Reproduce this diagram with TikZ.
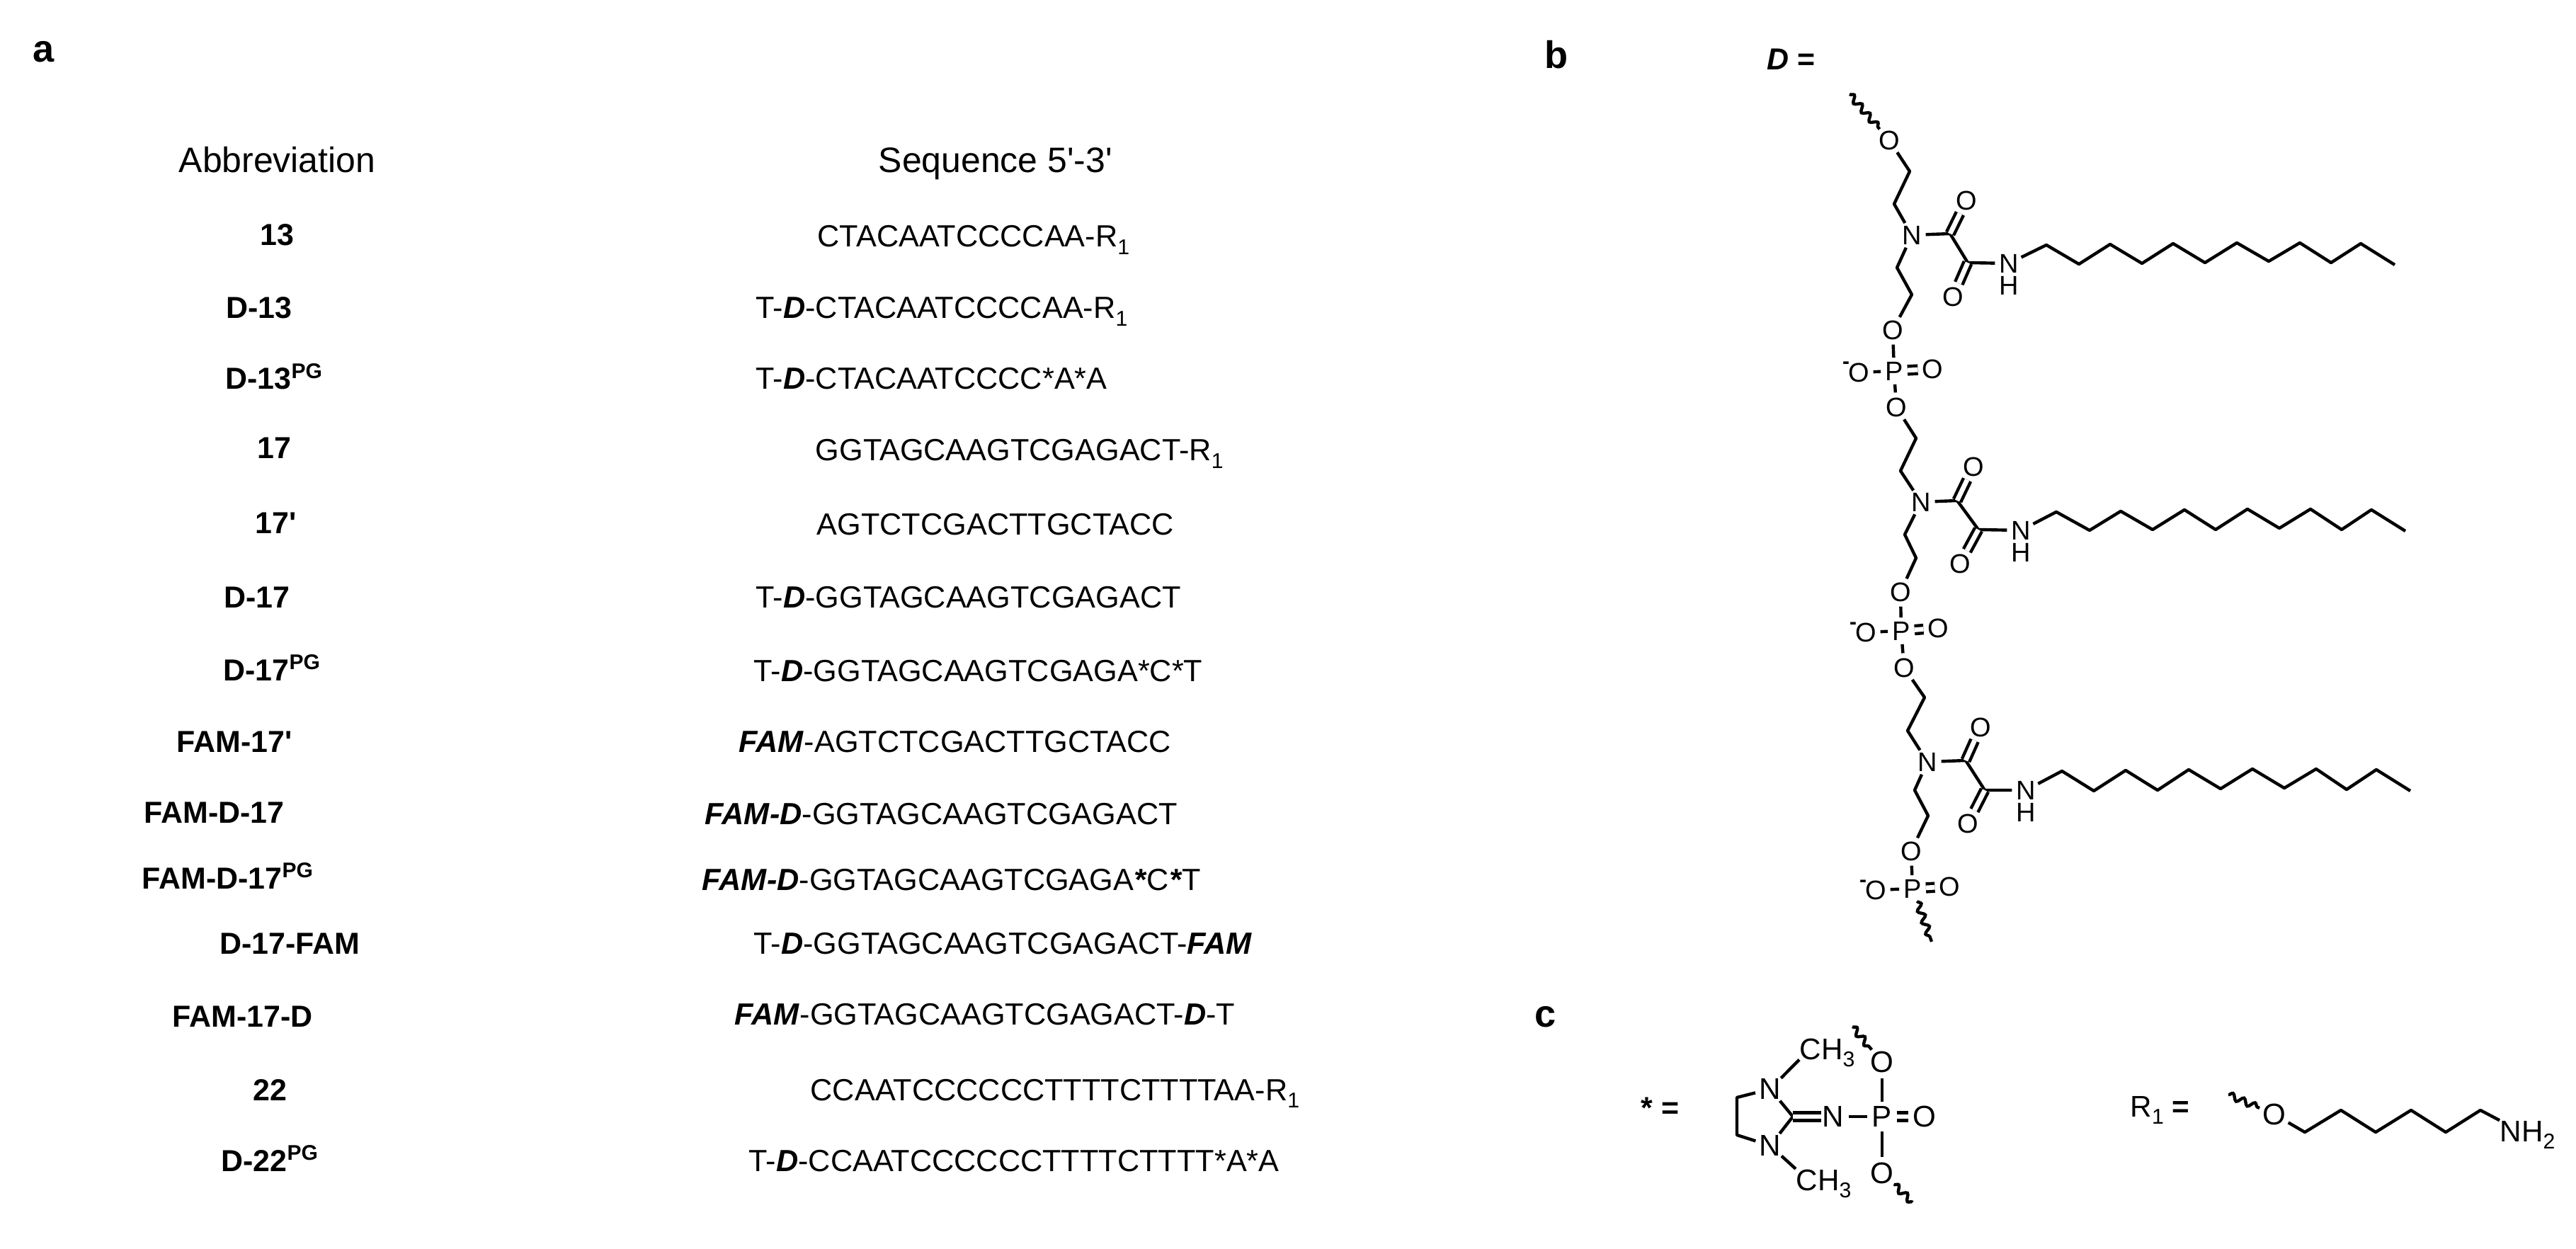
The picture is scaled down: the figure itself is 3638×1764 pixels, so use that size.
\documentclass[tikz,border=0pt]{standalone}
\usepackage{fontspec}
\usetikzlibrary{decorations.pathmorphing}
\newfontfamily\labelfont{Liberation Sans}
\newcommand{\fsize}[1]{\fontsize{#1}{#1}\selectfont}
\newcommand{\bolditalic}[1]{\textbf{\textit{#1}}}
\newcommand{\lowsub}[1]{\raisebox{-3pt}{\fsize{8.6pt}#1}}

\begin{document}
\begin{tikzpicture}[x=0.01cm, y=-0.01cm, node distance={0.31cm},
  head/.style = {anchor=base west, inner sep=0pt, font=\labelfont\fsize{14.2pt}},
  abbr/.style = {anchor=base west, inner sep=0pt, font=\labelfont\bfseries\fsize{12.2pt}},
  seq/.style = {anchor=base west, inner sep=0pt, font=\labelfont\fsize{12.3pt}},
  panel/.style = {anchor=base west, inner sep=0pt, font=\labelfont\bfseries\fsize{15.4pt}},
  atom/.style = {circle, inner sep=0pt, font=\labelfont\fsize{10.8pt}},
  atomc/.style = {circle, inner sep=0pt, font=\labelfont\fsize{12pt}},
  chargemark/.style = {inner sep=0pt, font=\labelfont\bfseries\fsize{8.5pt}},
  group/.style = {anchor=base west, inner sep=0pt, text depth=0pt, font=\labelfont\fsize{12pt}},
  bond/.style = {line width=1.25pt, line join=round},
  dbond/.style = {line width=1.25pt, double, double distance=1.9pt},
  wavy/.style = {line width=1.25pt, decorate, decoration={snake, amplitude=0.45mm, segment length=1.7mm}}]
\useasboundingbox (0,0) rectangle (3638,1764);

% panel a
\node[panel] (a) at (46,88) {a};
\node[head] (abbrhead) at (252,244) {Abbreviation};
\node[head] (seqhead) at (1240,244) {Sequence 5'-3'};

\node[abbr] (A1) at (367,347) {13};
\node[abbr] (A2) at (319,450) {D-13};
\node[abbr] (A3) at (318,550) {D-13\textsuperscript{PG}};
\node[abbr] (A4) at (363,648) {17};
\node[abbr] (A5) at (360,753) {17'};
\node[abbr] (A6) at (316,858) {D-17};
\node[abbr] (A7) at (315,961) {D-17\textsuperscript{PG}};
\node[abbr] (A8) at (249,1062) {FAM-17'};
\node[abbr] (A9) at (203,1162) {FAM-D-17};
\node[abbr] (A10) at (200,1255) {FAM-D-17\textsuperscript{PG}};
\node[abbr] (A11) at (310,1347) {D-17-FAM};
\node[abbr] (A12) at (243,1450) {FAM-17-D};
\node[abbr] (A13) at (357,1554) {22};
\node[abbr] (A14) at (312,1654) {D-22\textsuperscript{PG}};

\node[seq] (S1) at (1154,349) {CTACAATCCCCAA-R\lowsub{1}};
\node[seq] (S2) at (1067,450) {T-\bolditalic{D}-CTACAATCCCCAA-R\lowsub{1}};
\node[seq] (S3) at (1067,550) {T-\bolditalic{D}-CTACAATCCCC*A*A};
\node[seq] (S4) at (1151,651) {GGTAGCAAGTCGAGACT-R\lowsub{1}};
\node[seq] (S5) at (1153,755) {AGTCTCGACTTGCTACC};
\node[seq] (S6) at (1067,858) {T-\bolditalic{D}-GGTAGCAAGTCGAGACT};
\node[seq] (S7) at (1064,962) {T-\bolditalic{D}-GGTAGCAAGTCGAGA*C*T};
\node[seq] (S8) at (1043,1062) {\bolditalic{FAM}-AGTCTCGACTTGCTACC};
\node[seq] (S9) at (995,1164) {\bolditalic{FAM-D}-GGTAGCAAGTCGAGACT};
\node[seq] (S10) at (991,1257) {\bolditalic{FAM-D}-GGTAGCAAGTCGAGA\bolditalic{*}C\bolditalic{*}T};
\node[seq] (S11) at (1064,1347) {T-\bolditalic{D}-GGTAGCAAGTCGAGACT-\bolditalic{FAM}};
\node[seq] (S12) at (1037,1447) {\bolditalic{FAM}-GGTAGCAAGTCGAGACT-\bolditalic{D}-T};
\node[seq] (S13) at (1144,1554) {CCAATCCCCCCTTTTCTTTTAA-R\lowsub{1}};
\node[seq] (S14) at (1057,1654) {T-\bolditalic{D}-CCAATCCCCCCTTTTCTTTT*A*A};

% panel b
\node[panel] (b) at (2181,97) {b};
\node[abbr] (Dlabel) at (2495,99) {\bolditalic{D} =};

\coordinate (W1) at (2612,133);
\node[atom] (O1) at (2668,198) {O};
\coordinate (C1) at (2697,242);
\coordinate (C2) at (2675,288);
\node[atom] (N1) at (2700,332) {N};
\coordinate (C3) at (2679,378);
\coordinate (C4) at (2700,416);
\node[atom] (O2) at (2673,466) {O};
\node[atom] (P1) at (2675,524) {P};
\node[atom] (O1m) at (2625,526) {O};
\node[chargemark] (M1) at (2607,516) {-};
\node[atom] (O1d) at (2729,521) {O};
\node[atom] (O3) at (2678,575) {O};
\coordinate (K1) at (2754,330);
\node[atom] (K1o) at (2777,283) {O};
\coordinate (K2) at (2779,371);
\node[atom] (K2o) at (2758,419) {O};
\node[atom] (NH1) at (2837,372) {N};
\node[atom] (H1) [below of=NH1] {H};

\draw[wavy] (W1) -- (O1);
\draw[bond] (O1) -- (C1) -- (C2) -- (N1) -- (C3) -- (C4) -- (O2) -- (P1) -- (O3);
\draw[bond] (P1) -- (O1m);
\draw[dbond] (P1) -- (O1d);
\draw[bond] (N1) -- (K1) -- (K2) -- (NH1);
\draw[dbond] (K1) -- (K1o);
\draw[dbond] (K2) -- (K2o);
\coordinate (T1a) at (2890,346); \coordinate (T1b) at (2936,373); \coordinate (T1c) at (2980,345);
\coordinate (T1d) at (3025,372); \coordinate (T1e) at (3069,344); \coordinate (T1f) at (3114,371);
\coordinate (T1g) at (3159,343); \coordinate (T1h) at (3204,369); \coordinate (T1i) at (3248,343);
\coordinate (T1j) at (3292,371); \coordinate (T1k) at (3334,344); \coordinate (T1l) at (3382,374);
\draw[bond] (NH1) -- (T1a) -- (T1b) -- (T1c) -- (T1d) -- (T1e) -- (T1f) -- (T1g) -- (T1h) -- (T1i) -- (T1j) -- (T1k) -- (T1l);

\coordinate (C5) at (2706,619);
\coordinate (C6) at (2684,665);
\node[atom] (N2) at (2713,709) {N};
\coordinate (C7) at (2690,755);
\coordinate (C8) at (2706,788);
\node[atom] (O4) at (2684,836) {O};
\node[atom] (P2) at (2685,891) {P};
\node[atom] (O2m) at (2635,893) {O};
\node[chargemark] (M2) at (2617,884) {-};
\node[atom] (O2d) at (2737,887) {O};
\node[atom] (O5) at (2689,943) {O};
\coordinate (K3) at (2764,707);
\node[atom] (K3o) at (2787,659) {O};
\coordinate (K4) at (2794,748);
\node[atom] (K4o) at (2768,796) {O};
\node[atom] (NH2) at (2854,749) {N};
\node[atom] (H2) [below of=NH2] {H};

\draw[bond] (O3) -- (C5) -- (C6) -- (N2) -- (C7) -- (C8) -- (O4) -- (P2) -- (O5);
\draw[bond] (P2) -- (O2m);
\draw[dbond] (P2) -- (O2d);
\draw[bond] (N2) -- (K3) -- (K4) -- (NH2);
\draw[dbond] (K3) -- (K3o);
\draw[dbond] (K4) -- (K4o);
\coordinate (T2a) at (2904,723); \coordinate (T2b) at (2951,749); \coordinate (T2c) at (2995,722);
\coordinate (T2d) at (3040,748); \coordinate (T2e) at (3085,720); \coordinate (T2f) at (3129,748);
\coordinate (T2g) at (3174,719); \coordinate (T2h) at (3219,746); \coordinate (T2i) at (3263,719);
\coordinate (T2j) at (3307,748); \coordinate (T2k) at (3349,720); \coordinate (T2l) at (3397,750);
\draw[bond] (NH2) -- (T2a) -- (T2b) -- (T2c) -- (T2d) -- (T2e) -- (T2f) -- (T2g) -- (T2h) -- (T2i) -- (T2j) -- (T2k) -- (T2l);

\coordinate (C9) at (2718,985);
\coordinate (C10) at (2694,1032);
\node[atom] (N3) at (2722,1076) {N};
\coordinate (C11) at (2704,1116);
\coordinate (C12) at (2723,1152);
\node[atom] (O6) at (2699,1202) {O};
\node[atom] (P3) at (2701,1255) {P};
\node[atom] (O3m) at (2649,1257) {O};
\node[chargemark] (M3) at (2631,1248) {-};
\node[atom] (O3d) at (2753,1252) {O};
\coordinate (W2) at (2728,1330);
\coordinate (K5) at (2776,1074);
\node[atom] (K5o) at (2797,1027) {O};
\coordinate (K6) at (2803,1116);
\node[atom] (K6o) at (2779,1163) {O};
\node[atom] (NH3) at (2861,1116) {N};
\node[atom] (H3) [below of=NH3] {H};

\draw[bond] (O5) -- (C9) -- (C10) -- (N3) -- (C11) -- (C12) -- (O6) -- (P3);
\draw[bond] (P3) -- (O3m);
\draw[dbond] (P3) -- (O3d);
\draw[wavy] (P3) -- (W2);
\draw[bond] (N3) -- (K5) -- (K6) -- (NH3);
\draw[dbond] (K5) -- (K5o);
\draw[dbond] (K6) -- (K6o);
\coordinate (T3a) at (2912,1089); \coordinate (T3b) at (2957,1117); \coordinate (T3c) at (3002,1088);
\coordinate (T3d) at (3047,1116); \coordinate (T3e) at (3091,1087); \coordinate (T3f) at (3136,1114);
\coordinate (T3g) at (3181,1086); \coordinate (T3h) at (3226,1113); \coordinate (T3i) at (3271,1086);
\coordinate (T3j) at (3314,1115); \coordinate (T3k) at (3356,1087); \coordinate (T3l) at (3404,1117);
\draw[bond] (NH3) -- (T3a) -- (T3b) -- (T3c) -- (T3d) -- (T3e) -- (T3f) -- (T3g) -- (T3h) -- (T3i) -- (T3j) -- (T3k) -- (T3l);

% panel c
\node[panel] (c) at (2167,1450) {c};
\node[abbr] (Star) at (2317,1579) {* =};
\node[atomc] (Nt) at (2500,1538) {N};
\node[atomc] (Nb) at (2500,1618) {N};
\coordinate (Rt) at (2453,1550);
\coordinate (Rb) at (2453,1603);
\coordinate (Rc) at (2532,1577);
\node[atomc] (Nx) at (2589,1577) {N};
\node[atomc] (Pc) at (2658,1577) {P};
\node[atomc] (Od) at (2718,1577) {O};
\node[atomc] (Ot) at (2658,1500) {O};
\node[atomc] (Ob) at (2658,1657) {O};
\node[group] (CHt) at (2541,1496) {CH\lowsub{3}};
\node[group] (CHb) at (2536,1681) {CH\lowsub{3}};
\coordinate (Wt) at (2616,1450);
\coordinate (Wb) at (2701,1698);

\draw[bond] (Nt) -- (Rt) -- (Rb) -- (Nb) -- (Rc) -- (Nt);
\draw[dbond, shorten >=-0.05cm] (Rc) -- (Nx);
\draw[bond] (Nx) -- (Pc);
\draw[dbond] (Pc) -- (Od);
\draw[bond] (Ot) -- (Pc) -- (Ob);
\draw[bond] (Nt) -- (CHt.south west);
\draw[bond] (Nb) -- (CHb.north west);
\draw[wavy] (Wt) -- (Ot);
\draw[wavy] (Ob) -- (Wb);

\node[group] (R1) at (3008,1577) {R\lowsub{1} \textbf{=}};
\coordinate (Wr) at (3147,1546);
\node[atomc] (Or) at (3212,1574) {O};
\coordinate (L1) at (3255,1599); \coordinate (L2) at (3306,1568); \coordinate (L3) at (3355,1599);
\coordinate (L4) at (3405,1568); \coordinate (L5) at (3454,1599); \coordinate (L6) at (3503,1568);
\node[group] (NHr) at (3530,1612) {NH\lowsub{2}};

\draw[wavy] (Wr) -- (Or);
\draw[bond] (Or) -- (L1) -- (L2) -- (L3) -- (L4) -- (L5) -- (L6) -- (NHr.north west);

\end{tikzpicture}
\end{document}
